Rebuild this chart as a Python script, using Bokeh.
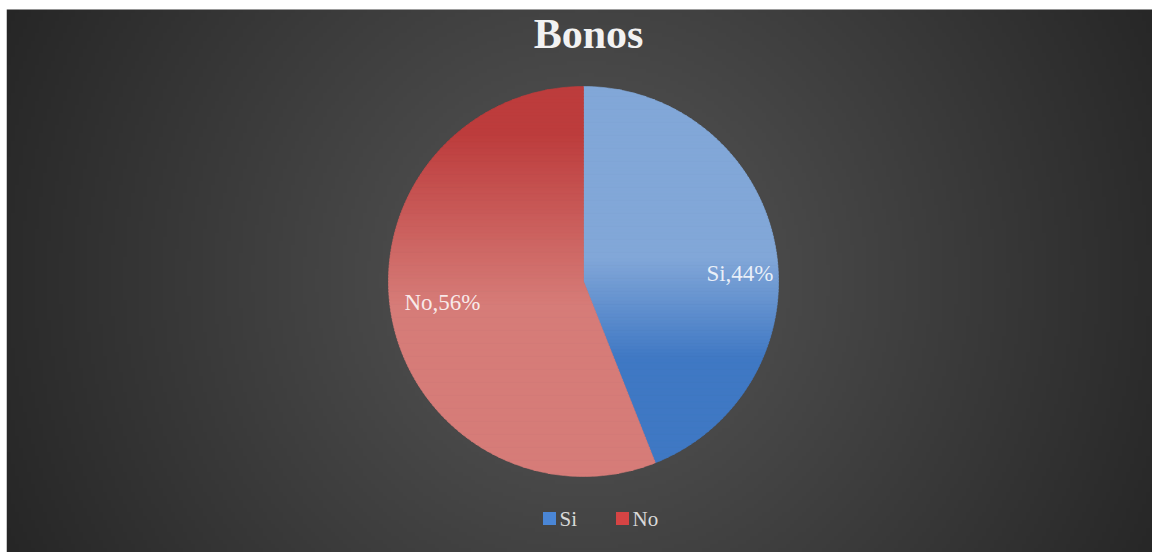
import math
import numpy as np
from bokeh.plotting import figure
from bokeh.models import Range1d
from bokeh.core.properties import value
from bokeh.embed import file_html
from bokeh.resources import INLINE

# ---- data ----
title = "Bonos"
categories = ["Si", "No"]
percents = [44, 56]
legend_colors = ["#4a86d6", "#d64444"]
grad_top = ["#82a7d8", "#bd3c3c"]
grad_bottom = ["#3f78c4", "#d67c78"]

W, H = 1146, 543
p = figure(width=1152, height=552, output_backend="svg", toolbar_location=None,
           x_range=Range1d(0, W), y_range=Range1d(0, H),
           x_axis_location=None, y_axis_location=None,
           min_border_left=6, min_border_top=9, min_border_right=0, min_border_bottom=0,
           border_fill_color="white", outline_line_color=None)
p.xgrid.visible = False
p.ygrid.visible = False

# ---- background radial gradient ----
f = 4
ny, nx = H // f + 1, W // f + 1
yy, xx = np.mgrid[0:ny, 0:nx]
cx0, cy0 = 577 / f, 271 / f
d = np.hypot((xx - cx0), (yy - cy0) * 1.0) * f
g = np.clip(88 - 0.078 * d, 36, 255).astype(np.uint32)
img = (255 << 24) | (g << 16) | (g << 8) | g
p.image_rgba(image=[img.astype(np.uint32)], x=0, y=0, dw=nx * f, dh=ny * f)

# ---- pie with vertical gradient ----
cx, cy, r = 577, 271, 195
# gradient stop fractions (from the top of the pie) per slice: start, end
grad_stops = [(0.44, 0.70), (0.12, 0.56)]

def hex2rgb(h):
    return tuple(int(h[i:i + 2], 16) for i in (1, 3, 5))

def rgb2hex(c):
    return "#%02x%02x%02x" % tuple(int(round(v)) for v in c)

def clip_poly(pts, y0, y1):
    def clip(pts, keep, inter):
        out = []
        n = len(pts)
        for i in range(n):
            a, b = pts[i], pts[(i + 1) % n]
            ka, kb = keep(a), keep(b)
            if ka:
                out.append(a)
            if ka != kb:
                out.append(inter(a, b))
        return out
    def ix(a, b, yv):
        t = (yv - a[1]) / (b[1] - a[1])
        return (a[0] + t * (b[0] - a[0]), yv)
    pts = clip(pts, lambda q: q[1] >= y0, lambda a, b: ix(a, b, y0))
    if not pts:
        return pts
    pts = clip(pts, lambda q: q[1] <= y1, lambda a, b: ix(a, b, y1))
    return pts

total = sum(percents)
start = 0.0
xs_all, ys_all, cols = [], [], []
mids = []
nb = 120
band = 2 * r / nb
for i, v in enumerate(percents):
    a0 = start
    a1 = start + v / total * 2 * math.pi
    mids.append((a0 + a1) / 2)
    n = max(4, int((a1 - a0) / (2 * math.pi) * 360))
    poly = [(cx, cy)] + [(cx + r * math.sin(a0 + (a1 - a0) * k / n),
                          cy + r * math.cos(a0 + (a1 - a0) * k / n)) for k in range(n + 1)]
    ct, cb = hex2rgb(grad_top[i]), hex2rgb(grad_bottom[i])
    s0, s1 = grad_stops[i]
    for b in range(nb):
        y1 = cy + r - b * band
        y0 = y1 - band - 0.6
        seg = clip_poly(poly, y0, y1)
        if len(seg) < 3:
            continue
        fr = (b + 0.5) / nb
        t = min(1.0, max(0.0, (fr - s0) / (s1 - s0)))
        c = tuple(ct[k] + (cb[k] - ct[k]) * t for k in range(3))
        xs_all.append([q[0] for q in seg])
        ys_all.append([q[1] for q in seg])
        cols.append(rgb2hex(c))
    start = a1

p.patches(xs_all, ys_all, fill_color=cols, line_color=cols, line_width=0.6)

# ---- data labels ----
label_dy = [8, -21]
for i, cat in enumerate(categories):
    s = math.sin(mids[i])
    if s > 0:
        lx, align = cx + r - 5, "right"
    else:
        lx, align = cx - r + 16, "left"
    p.text(x=[lx], y=[cy + label_dy[i]], text=[f"{cat},{percents[i]}%"],
           text_font=value("Liberation Serif"), text_font_size="23px",
           text_color="white", text_alpha=0.85, text_align=align, text_baseline="middle")

# ---- title ----
p.text(x=[582], y=[519], text=[title], text_font=value("Liberation Serif"),
       text_font_style="bold", text_font_size="42px", text_color="#f2f2f2",
       text_align="center", text_baseline="middle")

# ---- legend ----
lx0 = [543, 616]
for i, cat in enumerate(categories):
    p.rect(x=[lx0[i]], y=[34], width=13, height=13, fill_color=legend_colors[i], line_color=None)
    p.text(x=[lx0[i] + 10], y=[34], text=[cat], text_font=value("Liberation Serif"),
           text_font_size="21px", text_color="#d9d9d9", text_align="left", text_baseline="middle")

open("out.html", "w").write(file_html(p, INLINE))
